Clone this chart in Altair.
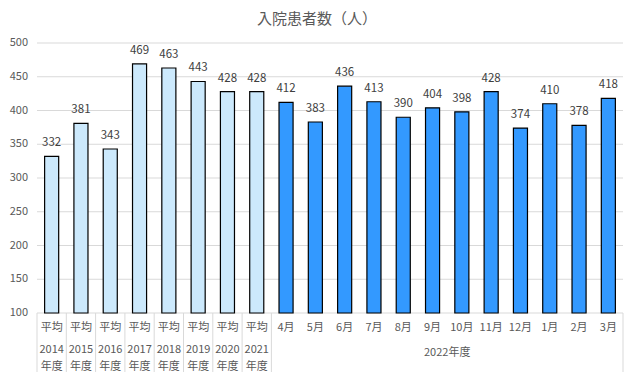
import altair as alt
import pandas as pd

line1 = ["平均"] * 8 + ["4月", "5月", "6月", "7月", "8月", "9月", "10月", "11月", "12月", "1月", "2月", "3月"]
line2 = ["2014", "2015", "2016", "2017", "2018", "2019", "2020", "2021"] + [""] * 12
line3 = ["年度"] * 8 + [""] * 12
values = [332, 381, 343, 469, 463, 443, 428, 428, 412, 383, 436, 413, 390, 404, 398, 428, 374, 410, 378, 418]
group = ["past"] * 8 + ["2022"] * 12
boundaries = [0, 1, 2, 3, 4, 5, 6, 7, 8, 20]
y_ticks = [100, 150, 200, 250, 300, 350, 400, 450, 500]
group_label = "2022年度"
title_text = "入院患者数（人）"

FONT = "Noto Sans CJK JP"
n = len(values)
df = pd.DataFrame({
    "idx": list(range(n)),
    "xc": [i + 0.5 for i in range(n)],
    "x0": [i + 0.26 for i in range(n)],
    "x1": [i + 0.74 for i in range(n)],
    "value": values,
    "base": [100] * n,
    "group": group,
    "l1": line1,
    "l2": line2,
    "l3": line3,
})

xs = alt.Scale(domain=[0, 20], nice=False, zero=False)
ys = alt.Scale(domain=[100, 500], nice=False, zero=False)
W, H = 586, 270

# gridlines + y labels as their own layer
gdf_ticks = pd.DataFrame({"t": y_ticks})
grid = alt.Chart(gdf_ticks).mark_rule(color="#D9D9D9", strokeWidth=1).encode(
    y=alt.Y("t:Q", scale=ys, axis=None),
    x=alt.value(0), x2=alt.value(W))
ylab = alt.Chart(gdf_ticks).mark_text(align="right", fontSize=11, font=FONT, color="#595959").encode(
    y=alt.Y("t:Q", scale=ys, axis=None),
    x=alt.value(-9), text="t:Q")

base = alt.Chart(df)

bars = base.mark_bar(stroke="black", strokeWidth=1.2).encode(
    x=alt.X("x0:Q", scale=xs, axis=None),
    x2="x1:Q",
    y=alt.Y("value:Q", scale=ys, axis=None),
    y2="base:Q",
    color=alt.Color("group:N", scale=alt.Scale(domain=["past", "2022"], range=["#CCE9FC", "#3399FF"]), legend=None),
)

vlabels = base.mark_text(dy=-13, fontSize=11.5, font=FONT, color="#404040").encode(
    x=alt.X("xc:Q", scale=xs, axis=None),
    y=alt.Y("value:Q", scale=ys, axis=None),
    text="value:Q",
)

t1 = base.mark_text(fontSize=11, font=FONT, color="#595959").encode(
    x=alt.X("xc:Q", scale=xs, axis=None), y=alt.value(285), text="l1:N")
t2 = base.transform_filter("datum.l2 != ''").mark_text(fontSize=11, font=FONT, color="#595959").encode(
    x=alt.X("xc:Q", scale=xs, axis=None), y=alt.value(307), text="l2:N")
t3 = base.transform_filter("datum.l3 != ''").mark_text(fontSize=11, font=FONT, color="#595959").encode(
    x=alt.X("xc:Q", scale=xs, axis=None), y=alt.value(324), text="l3:N")

bdf = pd.DataFrame({"b": boundaries})
seps = alt.Chart(bdf).mark_rule(color="#D9D9D9", strokeWidth=1).encode(
    x=alt.X("b:Q", scale=xs, axis=None), y=alt.value(270), y2=alt.value(334))

gdf = pd.DataFrame({"g": [group_label], "gx": [14.0]})
glabel = alt.Chart(gdf).mark_text(fontSize=11, font=FONT, color="#595959").encode(
    x=alt.X("gx:Q", scale=xs, axis=None), y=alt.value(310), text="g:N")

tdf = pd.DataFrame({"t": [title_text]})
title = alt.Chart(tdf).mark_text(fontSize=15, font=FONT, color="#595959").encode(
    x=alt.value(280), y=alt.value(-24), text="t:N")

chart = alt.layer(grid, ylab, bars, vlabels, t1, t2, t3, seps, glabel, title).properties(
    width=W, height=H,
    autosize=alt.AutoSizeParams(type="none"),
    padding={"left": 29, "top": 35, "right": 3, "bottom": 59},
).configure_view(stroke=None)

chart.save("out.html", embed_options={"renderer": "svg", "actions": False})
